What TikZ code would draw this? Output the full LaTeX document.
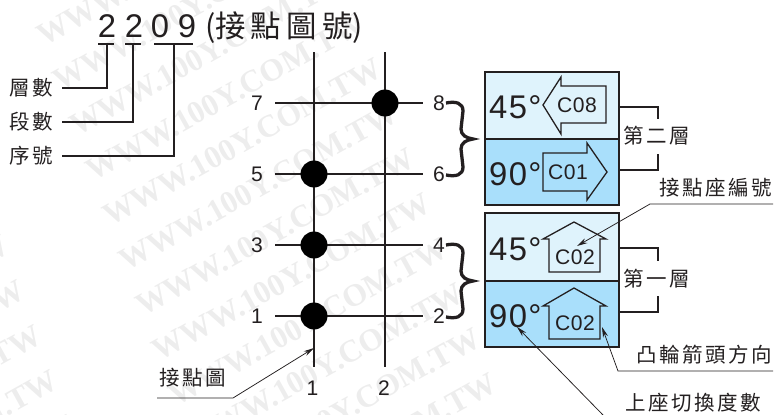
\documentclass[tikz,border=0pt]{standalone}
\usepackage{fontspec}
\setmainfont{Liberation Sans}
\newfontfamily\cjk{Noto Sans CJK TC}
\newfontfamily\stampfont{Liberation Serif}
\usetikzlibrary{arrows.meta}
\definecolor{lite}{HTML}{DFF3FC}
\definecolor{deep}{HTML}{A9DFFB}
\definecolor{ink}{HTML}{231F20}
\tikzset{
    thin line/.style={draw=ink, line width=0.9pt},
    bar/.style={draw=ink, line width=2.2pt},
    panel/.style={draw=ink, line width=1.2pt},
    outline/.style={draw=ink, line width=1.1pt},
    leader/.style={draw=ink, line width=0.65pt, -{Stealth[length=9pt, width=4.5pt]}},
    contact/.style={circle, fill=black, inner sep=0pt, minimum size=23pt},
    cjklabel/.style={text=ink, inner sep=0pt, font=\fontsize{17.5}{18}\selectfont\cjk\addfontfeature{LetterSpace=12}},
    digit/.style={text=ink, inner sep=0pt, font=\fontsize{18}{18}\selectfont},
    big/.style={text=ink, inner sep=0pt, anchor=base west, font=\fontsize{28}{28}\selectfont\addfontfeature{LetterSpace=4}},
    code/.style={text=ink, inner sep=0pt, font=\fontsize{18}{18}\selectfont\addfontfeature{LetterSpace=3}},
    stamp/.style={text=black!7, inner sep=0pt, anchor=base west, rotate=29, font=\fontsize{27}{27}\selectfont\bfseries\stampfont},
}
\begin{document}
\begin{tikzpicture}[x=0.03cm, y=-0.03cm]
    \useasboundingbox (0, 0) rectangle (774, 415);
    \begin{scope}
        \clip (0, 0) rectangle (774, 415);
        % faint background stamp
        \foreach \k in {-4, ..., 7}
            \node[stamp] (rowa\k) at (110+16.5*\k, 227+45*\k) {WWW.100Y.COM.TW};
        \foreach \k in {-1, ..., 4}
            \node[stamp] (rowb\k) at (-263+16.5*\k, 404+45*\k) {WWW.100Y.COM.TW};
    \end{scope}

    % code number and its three branches
    \foreach \dx/\dg in {107/2, 134/2, 160/0, 187/9}
        \node[text=ink, inner sep=0pt, anchor=base, font=\fontsize{28}{28}\selectfont] at (\dx, 37) {\dg};
    \node[text=ink, inner sep=0pt, font=\fontsize{26}{26}\selectfont\cjk] (title) at (284, 28) {({\addfontfeature{LetterSpace=17}接點圖號})};
    \node[cjklabel] (layers) at (31, 88) {層數};
    \node[cjklabel] (rows) at (31, 122) {段數};
    \node[cjklabel] (serial) at (31, 156) {序號};
    \draw[bar] (98, 44) -- (114, 44);
    \draw[bar] (125, 44) -- (141, 44);
    \draw[bar] (154, 44) -- (193, 44);
    \draw[bar] (107, 44) -- (107, 88) -- (62, 88);
    \draw[bar] (133, 44) -- (133, 122) -- (62, 122);
    \draw[bar] (174, 44) -- (174, 156) -- (62, 156);

    % contact chart
    \coordinate (t1) at (314, 52);
    \coordinate (b1) at (314, 367);
    \coordinate (t2) at (385, 52);
    \coordinate (b2) at (385, 367);
    \draw[thin line] (t1) -- (b1);
    \draw[thin line] (t2) -- (b2);
    \foreach \yy/\lft/\rgt in {103/7/8, 174/5/6, 245/3/4, 316/1/2} {
        \draw[thin line] (275, \yy) -- (423, \yy);
        \node[digit] (n\lft) at (257, \yy+0.7) {\lft};
        \node[digit] (n\rgt) at (439, \yy+0.3) {\rgt};
    }
    \node[contact] (c78) at (385, 103) {};
    \node[contact] (c56) at (314, 174) {};
    \node[contact] (c34) at (314, 245) {};
    \node[contact] (c12) at (314, 316) {};
    \node[digit] (col1) at (312.5, 388) {1};
    \node[digit] (col2) at (384, 388) {2};

    % braces
    \foreach \my in {139, 281} {
        \begin{scope}[shift={(0, \my)}]
            \draw[bar, line width=2.8pt, line join=miter]
                (446, -36) .. controls (456, -38) and (463, -36) .. (463, -28)
                -- (461, -10) .. controls (461, -4) and (466, -1) .. (473, 0)
                .. controls (466, 1) and (461, 4) .. (461, 10)
                -- (463, 28) .. controls (463, 36) and (456, 38) .. (446, 36);
        \end{scope}
    }

    % panels
    \draw[panel, fill=lite] (485, 72) rectangle (619, 139);
    \draw[panel, fill=deep] (485, 139) rectangle (619, 205);
    \draw[panel, fill=lite] (485, 213) rectangle (619, 281);
    \draw[panel, fill=deep] (485, 281) rectangle (619, 347);
    \node[big] (a45) at (489, 118) {45°};
    \node[big] (a90) at (489, 185) {90°};
    \node[big] (b45) at (489, 260) {45°};
    \node[big] (b90) at (489, 327) {90°};

    % cam arrows
    \draw[outline] (543, 105) -- (561, 77) -- (561, 86) -- (606, 86) -- (606, 123) -- (561, 123) -- (561, 134) -- cycle;
    \draw[outline] (543, 153) -- (587, 153) -- (587, 143) -- (607, 172) -- (587, 200) -- (587, 191) -- (543, 191) -- cycle;
    \draw[outline] (574, 222) -- (543, 239) -- (549, 239) -- (549, 272) -- (600, 272) -- (600, 239) -- (606, 239) -- cycle;
    \draw[outline] (574, 288) -- (543, 306) -- (549, 306) -- (549, 339) -- (600, 339) -- (600, 306) -- (606, 306) -- cycle;
    \node[code] (c08) at (577, 105) {C08};
    \node[code] (c01) at (568, 172) {C01};
    \node[code] (c02a) at (575, 257) {C02};
    \node[code] (c02b) at (575, 323) {C02};

    % layer brackets
    \node[cjklabel] (second) at (657, 136) {第二層};
    \node[cjklabel] (first) at (657, 279) {第一層};
    \draw[panel] (619, 107) -- (658, 107) -- (658, 119);
    \draw[panel] (619, 170) -- (658, 170) -- (658, 154);
    \draw[panel] (619, 248) -- (658, 248) -- (658, 261);
    \draw[panel] (619, 312) -- (658, 312) -- (658, 296);

    % callouts
    \node[cjklabel] (seat) at (716, 188) {接點座編號};
    \node[cjklabel] (dir) at (704, 355) {凸輪箭頭方向};
    \node[cjklabel] (deg) at (693, 403) {上座切換度數};
    \node[cjklabel] (chart) at (193, 378) {接點圖};
    \coordinate (seat end) at (773, 204);
    \coordinate (seat bend) at (650, 204);
    \coordinate (seat tip) at (577, 246);
    \coordinate (dir end) at (773, 371);
    \coordinate (dir bend) at (618, 371);
    \coordinate (dir tip) at (602, 327);
    \coordinate (deg start) at (603, 415);
    \coordinate (deg tip) at (517, 327);
    \coordinate (chart end) at (157, 398);
    \coordinate (chart bend) at (233, 398);
    \coordinate (chart tip) at (314, 348);
    \draw[leader] (seat end) -- (seat bend) -- (seat tip);
    \draw[leader] (dir end) -- (dir bend) -- (dir tip);
    \draw[leader] (deg start) -- (deg tip);
    \draw[leader] (chart end) -- (chart bend) -- (chart tip);
\end{tikzpicture}
\end{document}
